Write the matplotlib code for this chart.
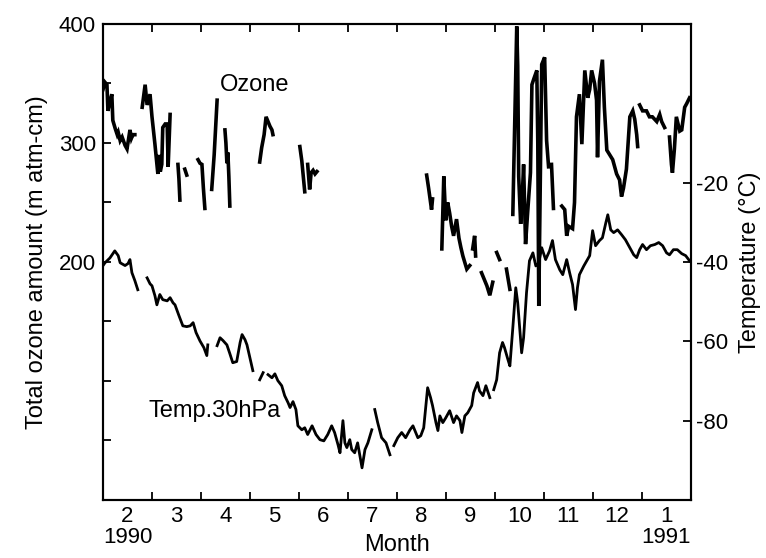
import numpy as np
import matplotlib
matplotlib.use("Agg")
import matplotlib.pyplot as plt

nan = np.nan

# x values in month units: 2.0 = 1 Feb 1990, 14.0 = 1 Feb 1991
oz_month = [
    2.00, 2.04, 2.08, 2.10, 2.14, 2.18, 2.20, 2.25, 2.29, 2.31, 2.35, 2.39, 2.45, 2.49, 2.55, 2.58, 2.61, 2.65, 2.70,
    2.80, 2.86, 2.90, 2.96, 3.00, 3.06, 3.10, 3.12, 3.14, 3.17, 3.20, 3.22, 3.27, 3.31, 3.33, 3.37, 3.45,
    3.53, 3.55, 3.57, 3.62,
    3.67, 3.71, 3.80,
    3.94, 3.98, 4.02, 4.05, 4.08, 4.15,
    4.22, 4.27, 4.33, 4.40,
    4.49, 4.51, 4.53, 4.55, 4.57, 4.59, 4.70,
    5.20, 5.24, 5.29, 5.33, 5.37, 5.41, 5.45, 5.47, 5.60,
    6.02, 6.06, 6.12, 6.15,
    6.18, 6.22, 6.25, 6.29, 6.33, 6.37, 6.50,
    8.61, 8.65, 8.69, 8.71, 8.73, 8.80,
    8.92, 8.96, 9.00, 9.04, 9.08, 9.12, 9.16, 9.22, 9.27, 9.31, 9.35, 9.43, 9.49, 9.52,
    9.55, 9.59, 9.61, 9.67,
    9.73, 9.78, 9.84, 9.90, 9.96, 10.00,
    10.04, 10.10, 10.17,
    10.24, 10.31, 10.34,
    10.37, 10.41, 10.45, 10.47, 10.49, 10.53, 10.57, 10.59, 10.63, 10.67, 10.73, 10.76, 10.80, 10.86, 10.88,
    10.90, 10.92, 10.96, 11.02, 11.06, 11.10, 11.13,
    11.16, 11.20, 11.28,
    11.37, 11.43, 11.47, 11.51, 11.59, 11.63, 11.67, 11.73, 11.78, 11.84, 11.90, 11.94, 11.98, 12.04, 12.08,
    12.10, 12.14, 12.20, 12.24, 12.29, 12.35, 12.41, 12.49, 12.55, 12.59, 12.63, 12.69, 12.76, 12.82, 12.86,
    12.90, 12.92, 12.94,
    12.96, 13.02, 13.10, 13.16, 13.22, 13.31, 13.37, 13.41, 13.47, 13.52,
    13.57, 13.61, 13.63, 13.67, 13.71, 13.78, 13.82, 13.88, 13.92, 13.98,
]
oz_value = [
    345, 351, 349, 327, 335, 341, 319, 312, 307, 309, 302, 305, 298, 295, 311, 304, 307, 307, nan,
    330, 349, 332, 341, 322, 299, 282, 274, 290, 276, 282, 313, 316, 316, 280, 324, nan,
    282, 270, 252, nan,
    278, 273, nan,
    286, 283, 282, 262, 245, nan,
    261, 290, 336, nan,
    311, 300, 283, 292, 272, 247, nan,
    284, 296, 307, 322, 318, 314, 311, 307, nan,
    297, 285, 259, nan,
    282, 261, 275, 277, 274, 276, nan,
    273, 262, 250, 244, 253, nan,
    211, 272, 235, 250, 241, 230, 222, 236, 220, 212, 205, 194, 197, nan,
    211, 222, 205, nan,
    191, 186, 180, 172, 183, nan,
    208, 202, nan,
    194, 177, nan,
    240, 320, 398, 365, 272, 232, 262, 282, 215, 240, 275, 349, 354, 361, 300,
    163, 230, 366, 372, 302, 280, nan,
    282, 245, nan,
    247, 244, 222, 230, 228, 250, 322, 341, 299, 361, 338, 345, 361, 350, 336,
    288, 352, 370, 330, 294, 290, 286, 274, 269, 255, 262, 278, 322, 327, 320,
    307, 297, nan,
    332, 327, 327, 322, 322, 318, 324, 318, 313, nan,
    305, 282, 275, 295, 322, 310, 311, 330, 333, 338,
]

t_month = [
    2.00, 2.04, 2.14, 2.24, 2.31, 2.35, 2.45, 2.51, 2.55, 2.59, 2.65, 2.71, 2.80,
    2.90, 2.96, 3.00, 3.06, 3.10, 3.16, 3.22, 3.31, 3.37, 3.43, 3.47, 3.55, 3.63, 3.71, 3.78, 3.84, 3.90,
    3.98, 4.06, 4.12, 4.14, 4.25,
    4.33, 4.39, 4.45, 4.53, 4.59, 4.65, 4.73, 4.80, 4.84, 4.90, 4.94, 5.00, 5.06, 5.12,
    5.20, 5.27, 5.32,
    5.37, 5.45, 5.51, 5.57, 5.65, 5.71, 5.78, 5.82, 5.88, 5.94, 5.98, 6.06, 6.12, 6.18, 6.27, 6.35,
    6.43, 6.51, 6.59, 6.67, 6.73, 6.80, 6.84, 6.90, 6.94, 6.98, 7.04, 7.08, 7.14, 7.20, 7.29, 7.35,
    7.41, 7.49, 7.52,
    7.55, 7.61, 7.69, 7.78, 7.86, 7.90,
    7.94, 8.02, 8.10, 8.18, 8.27, 8.33, 8.43, 8.49, 8.55, 8.63, 8.69, 8.73, 8.80, 8.84, 8.88, 8.94,
    9.00, 9.08, 9.16, 9.22, 9.29, 9.33, 9.39, 9.45, 9.53, 9.57, 9.65, 9.69, 9.76, 9.82, 9.90, 9.94,
    9.98, 10.04, 10.10, 10.16, 10.20, 10.27, 10.31, 10.37, 10.43, 10.47, 10.51, 10.55, 10.59, 10.65,
    10.71, 10.78, 10.84, 10.90, 10.96, 11.04, 11.12, 11.18, 11.24, 11.33, 11.39, 11.47, 11.53, 11.59,
    11.65, 11.69, 11.73, 11.82, 11.88, 11.94, 12.00, 12.06, 12.14, 12.20, 12.27, 12.31, 12.37, 12.43,
    12.51, 12.59, 12.67, 12.76, 12.84, 12.90, 12.96, 13.02, 13.10, 13.18, 13.27, 13.35, 13.43, 13.51,
    13.57, 13.65, 13.73, 13.82, 13.90, 13.98,
]
t_value = [
    -40.9, -40.2, -39.0, -37.2, -38.4, -40.2, -40.9, -40.4, -39.4, -42.7, -44.7, -47.0, nan,
    -44.0, -45.5, -46.0, -48.5, -50.8, -48.2, -49.5, -49.8, -49.0, -50.3, -50.8, -53.5, -56.1, -56.3, -56.1, -55.3, -57.8,
    -59.9, -61.6, -63.6, -60.9, nan,
    -61.1, -59.1, -59.8, -60.9, -63.1, -65.4, -65.1, -60.3, -58.3, -59.6, -60.9, -64.1, -67.4, nan,
    -69.7, -67.9, nan,
    -68.4, -69.2, -68.2, -69.9, -71.2, -73.7, -75.5, -76.7, -75.2, -77.2, -81.3, -82.3, -81.8, -83.5, -81.3, -83.5,
    -84.8, -85.1, -83.5, -81.3, -83.0, -86.1, -88.1, -80.0, -85.6, -86.8, -84.8, -87.3, -88.1, -85.6, -91.9, -87.3,
    -85.6, -82.3, nan,
    -77.2, -80.5, -84.3, -85.6, -88.6, nan,
    -86.3, -84.3, -83.0, -84.3, -82.3, -81.3, -84.3, -83.8, -81.8, -71.7, -74.2, -76.2, -80.5, -82.5, -78.8, -80.5,
    -79.3, -77.5, -80.5, -78.8, -80.0, -83.0, -78.8, -78.0, -76.2, -73.0, -70.4, -72.5, -73.7, -71.2, -74.2, nan,
    -72.2, -69.7, -62.9, -60.3, -61.6, -64.6, -66.2, -56.6, -46.5, -50.3, -56.6, -62.9, -59.1, -47.7,
    -39.7, -37.7, -41.0, -40.2, -36.4, -39.4, -37.2, -34.6, -39.4, -42.0, -43.2, -39.4, -42.7, -45.7,
    -52.0, -46.5, -43.2, -41.0, -39.7, -38.4, -32.1, -35.9, -34.6, -33.9, -30.1, -28.1, -31.9, -32.6,
    -31.9, -33.1, -34.4, -36.4, -38.2, -38.9, -36.9, -35.6, -36.9, -35.9, -35.6, -35.1, -35.9, -37.7,
    -38.2, -36.9, -36.9, -37.9, -38.4, -39.7,
]

month_ticks = np.arange(3, 14)
month_label_pos = np.arange(2.5, 14.0, 1.0)
month_labels = ["2\n1990", "3", "4", "5", "6", "7", "8", "9", "10", "11", "12", "1\n1991"]
oz_ticks = np.arange(0, 401, 50)
oz_tick_labels = ["" if v not in (200, 300, 400) else str(v) for v in oz_ticks]
t_ticks = [-80, -60, -40, -20]
t_tick_labels = ["-80", "-60", "-40", "-20"]

plt.rcParams["font.family"] = ["Liberation Sans", "DejaVu Sans"]
FS = 16

fig = plt.figure(figsize=(7.66, 5.58), dpi=100)
ax = fig.add_axes([0.1345, 0.104, 0.767, 0.853])
ax2 = ax.twinx()

ax.plot(oz_month, oz_value, color="black", lw=2.6, solid_joinstyle="miter")
ax2.plot(t_month, t_value, color="black", lw=2.0)

ax.set_xlim(2, 14)
ax.set_ylim(0, 400)
ax2.set_ylim(-100, 20)

ax.set_xticks(month_ticks)
ax.set_xticklabels([])
ax.set_xticks(month_label_pos, minor=True)
ax.set_xticklabels(month_labels, minor=True, fontsize=FS, linespacing=1.0)
ax.tick_params(axis="x", which="major", direction="in", length=6, width=1.3, top=True)
ax.tick_params(axis="x", which="minor", length=0, pad=4)

ax.set_yticks(oz_ticks)
ax.set_yticklabels(oz_tick_labels, fontsize=FS)
ax.tick_params(axis="y", direction="in", length=6, width=1.3, pad=5)

ax2.set_yticks(t_ticks)
ax2.set_yticklabels(t_tick_labels, fontsize=FS)
ax2.tick_params(axis="y", direction="in", length=6, width=1.3, pad=4)

for a in (ax, ax2):
    for s in a.spines.values():
        s.set_linewidth(1.5)

ax.set_xlabel("Month", fontsize=FS + 1, labelpad=-10)
ax.set_ylabel("Total ozone amount (m atm-cm)", fontsize=FS + 1, labelpad=8)
ax2.set_ylabel("Temperature (°C)", fontsize=FS + 1, labelpad=8)

ax.text(5.10, 349, "Ozone", fontsize=FS + 1, ha="center", va="center")
ax2.text(2.92, -77.5, "Temp.30hPa", fontsize=FS + 1, ha="left", va="center")

fig.savefig("out.png", dpi=100)
